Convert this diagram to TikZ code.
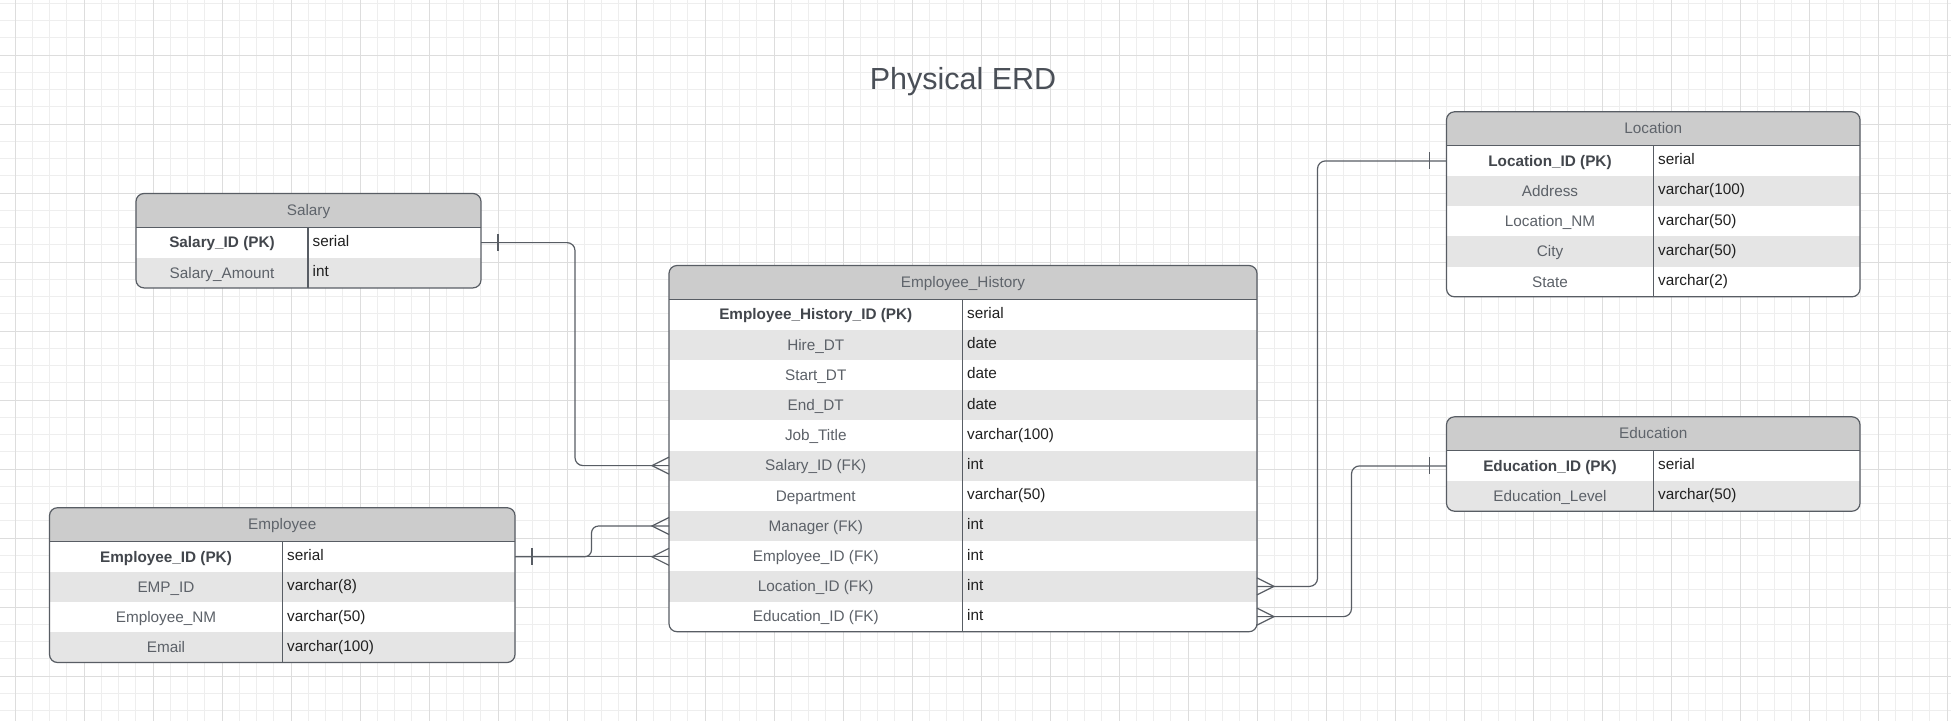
\documentclass[tikz,border=0pt]{standalone}
\usepackage{fontspec}
\setmainfont{Liberation Sans}
\usepackage{tikz}
\usetikzlibrary{positioning}
\definecolor{erdline}{RGB}{88,93,100}
\definecolor{erdhead}{RGB}{204,204,204}
\definecolor{erdrow}{RGB}{229,229,229}
\definecolor{erdhdrtext}{RGB}{95,100,107}
\definecolor{erdname}{RGB}{92,97,104}
\definecolor{erdkey}{RGB}{66,70,76}
\definecolor{erdtype}{RGB}{32,32,32}
\definecolor{erdtitle}{RGB}{74,79,87}
\definecolor{gridminor}{RGB}{238,238,238}
\definecolor{gridmajor}{RGB}{221,221,221}
\tikzstyle{tblline} = [line width=1.2pt, color=erdline]
\tikzstyle{rel} = [line width=1.2pt, color=erdline]
\tikzstyle{hdrcell} = [rectangle, fill=erdhead, minimum height=34pt, inner sep=0pt, outer sep=0pt, anchor=north west]
\tikzstyle{rowcell} = [rectangle, minimum height=30.2pt, inner sep=0pt, outer sep=0pt, anchor=north west]
\tikzstyle{hdrtext} = [font=\fontsize{15.3}{18}\selectfont, text=erdhdrtext, anchor=base, inner sep=0pt]
\tikzstyle{nametext} = [font=\fontsize{15.3}{18}\selectfont, text=erdname, anchor=base, inner sep=0pt]
\tikzstyle{typetext} = [font=\fontsize{15.3}{18}\selectfont, text=erdtype, anchor=base west, inner sep=0pt]
\tikzset{
  onebarR/.pic={\draw[rel] (17,-8.5) -- (17,8.5);},
  onebarL/.pic={\draw[rel] (-17,-8.5) -- (-17,8.5);},
  crowL/.pic={\draw[rel] (0,-8.5) -- (-17,0) -- (0,8.5);},
  crowR/.pic={\draw[rel] (0,-8.5) -- (17,0) -- (0,8.5);}
}
\begin{document}
\begin{tikzpicture}[x=1pt, y=-1pt]
\useasboundingbox (0,0) rectangle (1951,721);
\fill[white] (0,0) rectangle (1951,721);
% grid
\foreach \k in {0,...,113} \draw[gridminor, line width=1pt] ({15+17.25*(\k-1)},0) -- ({15+17.25*(\k-1)},721);
\foreach \k in {0,...,42} \draw[gridminor, line width=1pt] (0,{55+17.25*(\k-4)}) -- (1951,{55+17.25*(\k-4)});
\foreach \k in {0,...,28} \draw[gridmajor, line width=1pt] ({15+69*\k},0) -- ({15+69*\k},721);
\foreach \k in {0,...,9} \draw[gridmajor, line width=1pt] (0,{55+69*\k}) -- (1951,{55+69*\k});

\node[font=\fontsize{30.5}{36}\selectfont, text=erdtitle, anchor=base, inner sep=0pt] (title) at (963,89.5) {Physical ERD};

% Salary
\begin{scope}
\clip[rounded corners=8pt] (136,193.5) rectangle (481,287.9);
\node[hdrcell, minimum width=345pt] (sal) at (136,193.5) {};
\foreach \fc [count=\i] in {white,erdrow}{
  \node[rowcell, fill=\fc, minimum width=345pt] (sal-r\i) at (136,{227.5+30.2*(\i-1)}) {};
}
\end{scope}
\node[hdrtext] (sal-title) at ([yshift=-5pt]sal.center) {Salary};
\foreach \nm/\ty [count=\i] in {{\color{erdkey}\textbf{Salary\_ID (PK)}}/serial, Salary\_Amount/int}{
  \node[nametext] (sal-n\i) at ([xshift=86pt,yshift=-5.3pt]sal-r\i.west) {\nm};
  \node[typetext] (sal-t\i) at ([xshift=176.5pt,yshift=-3.8pt]sal-r\i.west) {\ty};
}
\draw[tblline, rounded corners=8pt] (136,193.5) rectangle (481,287.9);
\draw[tblline] (sal.south west) -- (sal.south east);
\draw[tblline] ([xshift=172pt]sal-r1.north west) -- ([xshift=172pt]sal-r2.south west);

% Employee_History
\begin{scope}
\clip[rounded corners=8pt] (669,265.5) rectangle (1257,631.7);
\node[hdrcell, minimum width=588pt] (eh) at (669,265.5) {};
\foreach \fc [count=\i] in {white,erdrow,white,erdrow,white,erdrow,white,erdrow,white,erdrow,white}{
  \node[rowcell, fill=\fc, minimum width=588pt] (eh-r\i) at (669,{299.5+30.2*(\i-1)}) {};
}
\end{scope}
\node[hdrtext] (eh-title) at ([yshift=-5pt]eh.center) {Employee\_History};
\foreach \nm/\ty [count=\i] in {{\color{erdkey}\textbf{Employee\_History\_ID (PK)}}/serial, Hire\_DT/date, Start\_DT/date, End\_DT/date, Job\_Title/varchar(100), Salary\_ID (FK)/int, Department/varchar(50), Manager (FK)/int, Employee\_ID (FK)/int, Location\_ID (FK)/int, Education\_ID (FK)/int}{
  \node[nametext] (eh-n\i) at ([xshift=146.75pt,yshift=-5.3pt]eh-r\i.west) {\nm};
  \node[typetext] (eh-t\i) at ([xshift=298pt,yshift=-3.8pt]eh-r\i.west) {\ty};
}
\draw[tblline, rounded corners=8pt] (669,265.5) rectangle (1257,631.7);
\draw[tblline] (eh.south west) -- (eh.south east);
\draw[tblline] ([xshift=293.5pt]eh-r1.north west) -- ([xshift=293.5pt]eh-r11.south west);

% Employee
\begin{scope}
\clip[rounded corners=8pt] (49.5,507.7) rectangle (515,662.5);
\node[hdrcell, minimum width=465.5pt] (emp) at (49.5,507.7) {};
\foreach \fc [count=\i] in {white,erdrow,white,erdrow}{
  \node[rowcell, fill=\fc, minimum width=465.5pt] (emp-r\i) at (49.5,{541.7+30.2*(\i-1)}) {};
}
\end{scope}
\node[hdrtext] (emp-title) at ([yshift=-5pt]emp.center) {Employee};
\foreach \nm/\ty [count=\i] in {{\color{erdkey}\textbf{Employee\_ID (PK)}}/serial, EMP\_ID/varchar(8), Employee\_NM/varchar(50), Email/varchar(100)}{
  \node[nametext] (emp-n\i) at ([xshift=116.5pt,yshift=-5.3pt]emp-r\i.west) {\nm};
  \node[typetext] (emp-t\i) at ([xshift=237.5pt,yshift=-3.8pt]emp-r\i.west) {\ty};
}
\draw[tblline, rounded corners=8pt] (49.5,507.7) rectangle (515,662.5);
\draw[tblline] (emp.south west) -- (emp.south east);
\draw[tblline] ([xshift=233pt]emp-r1.north west) -- ([xshift=233pt]emp-r4.south west);

% Location
\begin{scope}
\clip[rounded corners=8pt] (1446.5,111.8) rectangle (1860,296.8);
\node[hdrcell, minimum width=413.5pt] (loc) at (1446.5,111.8) {};
\foreach \fc [count=\i] in {white,erdrow,white,erdrow,white}{
  \node[rowcell, fill=\fc, minimum width=413.5pt] (loc-r\i) at (1446.5,{145.8+30.2*(\i-1)}) {};
}
\end{scope}
\node[hdrtext] (loc-title) at ([yshift=-5pt]loc.center) {Location};
\foreach \nm/\ty [count=\i] in {{\color{erdkey}\textbf{Location\_ID (PK)}}/serial, Address/varchar(100), Location\_NM/varchar(50), City/varchar(50), State/varchar(2)}{
  \node[nametext] (loc-n\i) at ([xshift=103.5pt,yshift=-5.3pt]loc-r\i.west) {\nm};
  \node[typetext] (loc-t\i) at ([xshift=211.5pt,yshift=-3.8pt]loc-r\i.west) {\ty};
}
\draw[tblline, rounded corners=8pt] (1446.5,111.8) rectangle (1860,296.8);
\draw[tblline] (loc.south west) -- (loc.south east);
\draw[tblline] ([xshift=207pt]loc-r1.north west) -- ([xshift=207pt]loc-r5.south west);

% Education
\begin{scope}
\clip[rounded corners=8pt] (1446.5,416.8) rectangle (1860,511.2);
\node[hdrcell, minimum width=413.5pt] (edu) at (1446.5,416.8) {};
\foreach \fc [count=\i] in {white,erdrow}{
  \node[rowcell, fill=\fc, minimum width=413.5pt] (edu-r\i) at (1446.5,{450.8+30.2*(\i-1)}) {};
}
\end{scope}
\node[hdrtext] (edu-title) at ([yshift=-5pt]edu.center) {Education};
\foreach \nm/\ty [count=\i] in {{\color{erdkey}\textbf{Education\_ID (PK)}}/serial, Education\_Level/varchar(50)}{
  \node[nametext] (edu-n\i) at ([xshift=103.5pt,yshift=-5.3pt]edu-r\i.west) {\nm};
  \node[typetext] (edu-t\i) at ([xshift=211.5pt,yshift=-3.8pt]edu-r\i.west) {\ty};
}
\draw[tblline, rounded corners=8pt] (1446.5,416.8) rectangle (1860,511.2);
\draw[tblline] (edu.south west) -- (edu.south east);
\draw[tblline] ([xshift=207pt]edu-r1.north west) -- ([xshift=207pt]edu-r2.south west);

% relationships
\draw[rel, rounded corners=8pt] (sal-r1.east) -- ++(94,0) |- (eh-r6.west);
\pic at (sal-r1.east) {onebarR};
\pic at (eh-r6.west) {crowL};

\draw[rel] (emp-r1.east) -- (emp-r1.east -| eh-r9.west);
\draw[rel, rounded corners=7pt] (emp-r1.east) -- ++(76.5,0) |- (eh-r8.west);
\pic at (emp-r1.east) {onebarR};
\pic at (eh-r8.west) {crowL};
\pic at (emp-r1.east -| eh-r9.west) {crowL};

\draw[rel, rounded corners=8pt] (eh-r10.east) -- ++(60.5,0) |- (loc-r1.west);
\pic at (eh-r10.east) {crowR};
\pic at (loc-r1.west) {onebarL};

\draw[rel, rounded corners=8pt] (eh-r11.east) -- ++(94.5,0) |- (edu-r1.west);
\pic at (eh-r11.east) {crowR};
\pic at (edu-r1.west) {onebarL};
\end{tikzpicture}
\end{document}
